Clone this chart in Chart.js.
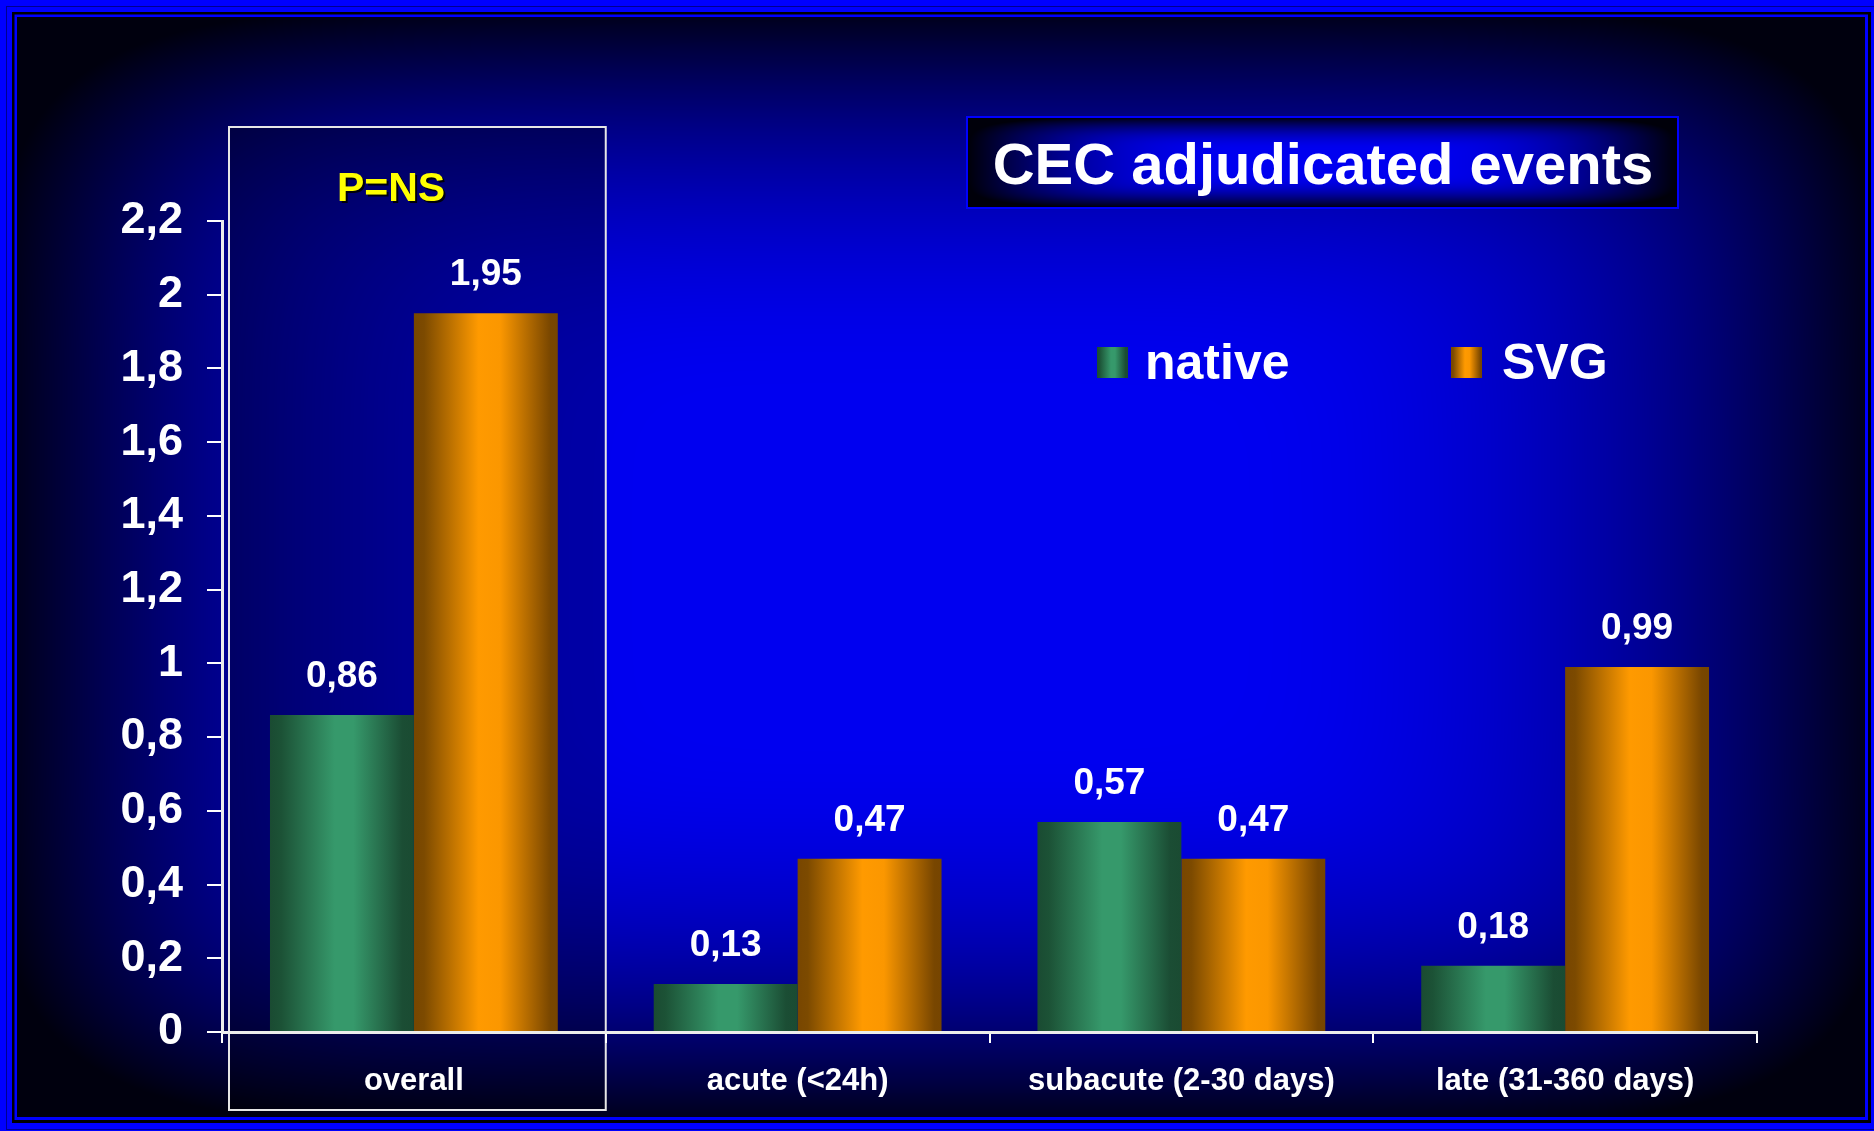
<!DOCTYPE html>
<html>
<head>
<meta charset="utf-8">
<title>CEC adjudicated events</title>
<script src="https://cdn.jsdelivr.net/npm/chart.js@4.4.1/dist/chart.umd.min.js"></script>
<style>
  html, body { margin: 0; padding: 0; background: #0000ff; }
  #wrap { width: 1874px; height: 1131px; }
</style>
</head>
<body>
<div id="wrap"><canvas id="chart" width="1874" height="1131"></canvas></div>
<script>
// dados do gráfico
const categories = ['overall', 'acute (<24h)', 'subacute (2-30 days)', 'late (31-360 days)'];
const nativeValues = [0.86, 0.13, 0.57, 0.18];
const svgValues = [1.95, 0.47, 0.47, 0.99];
const seriesNames = ['native', 'SVG'];
const yMax = 2.2;
const yStep = 0.2;
const boxTitle = 'CEC adjudicated events';
const pNote = 'P=NS';

const FONT = "'Liberation Sans', Arial, sans-serif";
Chart.defaults.font.family = FONT;

const greenStops = [[0, '#1a4b32'], [0.08, '#1c5236'], [0.45, '#36996b'], [0.58, '#36996b'], [0.92, '#1b4d34'], [1, '#1a4b32']];
const orangeStops = [[0, '#784600'], [0.07, '#7c4a00'], [0.45, '#ff9a00'], [0.6, '#fb9700'], [0.95, '#784600'], [1, '#764500']];

const CAT_PCT = 0.75;

function hGradient(ctx, left, width, stops) {
    const g = ctx.createLinearGradient(left, 0, left + width, 0);
    stops.forEach(([o, c]) => g.addColorStop(o, c));
    return g;
}

// gradiente "cilindro" de cada barra, calculado a partir da escala
function barFill(stops) {
    return context => {
        const chart = context.chart;
        const x = chart.scales.x;
        if (!x || !chart.chartArea || context.type !== 'data') return stops[2][1];
        const w = x.width / categories.length * CAT_PCT / 2;
        const left = x.getPixelForValue(context.dataIndex) - w + context.datasetIndex * w;
        if (!isFinite(w) || !isFinite(left) || w <= 0) return stops[2][1];
        return hGradient(chart.ctx, left, w, stops);
    };
}

// fundo com brilho a partir do centro
function glowCanvas(w, h, peak, floor, plateau, k) {
    const c = document.createElement('canvas');
    c.width = w; c.height = h;
    const g = c.getContext('2d');
    const img = g.createImageData(w, h);
    const hw = w / 2, hh = h / 2;
    for (let y = 0; y < h; y++) {
        const dy = Math.abs(y + 0.5 - hh) / hh;
        for (let x = 0; x < w; x++) {
            const dx = Math.abs(x + 0.5 - hw) / hw;
            const d = Math.pow(Math.pow(dx, 6) + Math.pow(dy, 6), 1 / 6);
            const e = Math.max(0, d - plateau);
            const f = Math.min(1, Math.max(0, 1 - k * e * e));
            const i = (y * w + x) * 4;
            img.data[i] = 0;
            img.data[i + 1] = 0;
            img.data[i + 2] = Math.round(floor + (peak - floor) * f);
            img.data[i + 3] = 255;
        }
    }
    g.putImageData(img, 0, 0);
    return c;
}

let bgCache = null;
let titleCache = null;

const slidePlugin = {
    id: 'slide',
    beforeDraw(chart) {
        const c = chart.ctx;
        const W = chart.width, H = chart.height;
        c.save();
        // moldura
        c.fillStyle = '#0000ff';
        c.fillRect(0, 0, W, H);
        c.strokeStyle = '#000090';
        c.lineWidth = 1;
        c.strokeRect(6.5, 6.5, 1869, 1123);
        c.fillStyle = '#000000';
        c.fillRect(12, 12, 1859, 1111);
        c.fillStyle = '#0000ff';
        c.fillRect(14.5, 14.5, 1853.5, 1105.5);
        if (!bgCache) bgCache = glowCanvas(1848, 1100, 240, 14, 0.3, 1.9);
        c.drawImage(bgCache, 17, 17);

        // caixa em volta de "overall"
        const x = chart.scales.x;
        const area = chart.chartArea;
        const cat = x.width / categories.length;
        const bx = x.left + 7, by = area.top - 94;
        const bw = x.getPixelForValue(0) + cat / 2 - bx, bh = x.bottom - 21 - by;
        c.fillStyle = 'rgba(0,0,0,0.3)';
        c.fillRect(bx, by, bw, bh);
        c.strokeStyle = '#e6e6e6';
        c.lineWidth = 2;
        c.strokeRect(bx, by, bw, bh);
        c.restore();
    },
    afterDatasetsDraw(chart) {
        const c = chart.ctx;
        c.save();
        c.fillStyle = '#ffffff';
        c.font = 'bold 37px ' + FONT;
        c.textAlign = 'center';
        c.textBaseline = 'alphabetic';
        chart.data.datasets.forEach((ds, di) => {
            chart.getDatasetMeta(di).data.forEach((bar, i) => {
                const txt = ds.data[i].toFixed(2).replace('.', ',');
                c.fillText(txt, bar.x, bar.y - 28);
            });
        });
        c.restore();
    },
    afterDraw(chart) {
        const c = chart.ctx;
        c.save();
        // P=NS
        c.font = 'bold 41px ' + FONT;
        c.textAlign = 'center';
        c.textBaseline = 'middle';
        c.shadowColor = 'rgba(0,0,0,0.9)';
        c.shadowOffsetX = 2;
        c.shadowOffsetY = 2;
        c.fillStyle = '#ffff00';
        c.fillText(pNote, 391, 190);
        c.shadowColor = 'transparent';

        // caixa do título
        if (!titleCache) titleCache = glowCanvas(711, 91, 240, 10, 0.25, 1.8);
        c.drawImage(titleCache, 967, 117);
        c.strokeStyle = '#0000ff';
        c.lineWidth = 2;
        c.strokeRect(967, 117, 711, 91);
        c.fillStyle = '#ffffff';
        c.font = 'bold 58px ' + FONT;
        c.fillText(boxTitle, 1323, 168);

        // legenda
        const legend = [[1097, 1145], [1451, 1502]];
        c.font = 'bold 50px ' + FONT;
        c.textAlign = 'left';
        chart.data.datasets.forEach((ds, i) => {
            const [sx, tx] = legend[i];
            c.fillStyle = hGradient(c, sx, 31, ds.stops);
            c.fillRect(sx, 347, 31, 31);
            c.fillStyle = '#ffffff';
            c.fillText(ds.label, tx, 365);
        });
        c.restore();
    }
};

const chart = new Chart(document.getElementById('chart'), {
    type: 'bar',
    data: {
        labels: categories,
        datasets: [{
            label: seriesNames[0],
            data: nativeValues,
            stops: greenStops,
            backgroundColor: barFill(greenStops),
            borderWidth: 0,
            categoryPercentage: CAT_PCT,
            barPercentage: 1.0
        }, {
            label: seriesNames[1],
            data: svgValues,
            stops: orangeStops,
            backgroundColor: barFill(orangeStops),
            borderWidth: 0,
            categoryPercentage: CAT_PCT,
            barPercentage: 1.0
        }]
    },
    options: {
        responsive: false,
        animation: false,
        devicePixelRatio: 1,
        layout: { padding: { top: 221, right: 117, left: 0, bottom: 0 } },
        plugins: {
            legend: { display: false },
            tooltip: { enabled: false }
        },
        scales: {
            x: {
                offset: true,
                grid: { offset: true, drawOnChartArea: false, color: '#ffffff', lineWidth: 2, tickLength: 11 },
                border: { color: '#ececec', width: 3 },
                ticks: { color: '#ffffff', font: { size: 31, weight: 'bold' }, padding: 20, maxRotation: 0 },
                afterFit: s => { s.height = 99; }
            },
            y: {
                min: 0,
                max: yMax,
                grid: { drawOnChartArea: false, color: '#ffffff', lineWidth: 2, tickLength: 15 },
                border: { color: '#ececec', width: 3 },
                ticks: {
                    stepSize: yStep,
                    color: '#ffffff',
                    font: { size: 45, weight: 'bold' },
                    padding: 24,
                    callback: v => (+v.toFixed(1)).toString().replace('.', ',')
                },
                afterFit: s => { s.width = 222; }
            }
        }
    },
    plugins: [slidePlugin]
});
</script>
</body>
</html>
